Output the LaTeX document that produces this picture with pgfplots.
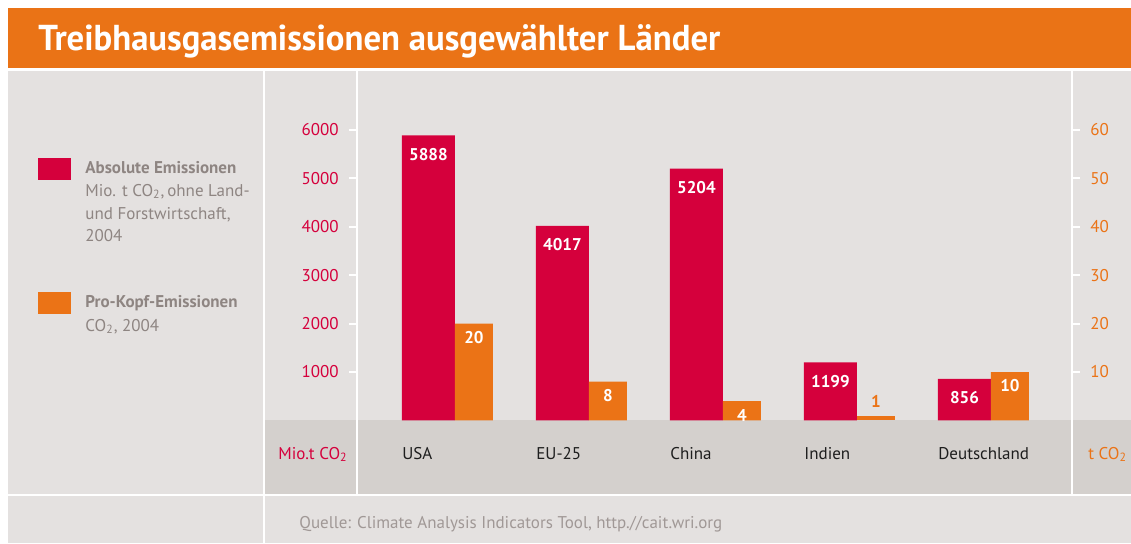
\documentclass[border=0pt]{standalone}
\usepackage{fontspec}
\setmainfont{PT Sans}
\newfontfamily\titlefont[FakeStretch=0.965]{PT Sans}
\usepackage{pgfplots}
\pgfplotsset{compat=1.18}

\definecolor{BandOrange}{RGB}{234,115,22}
\definecolor{BarRed}{RGB}{213,0,60}
\definecolor{BarOrange}{RGB}{235,115,22}
\definecolor{PanelGray}{RGB}{228,225,224}
\definecolor{BandGray}{RGB}{212,208,205}
\definecolor{LegendGray}{RGB}{142,133,130}
\definecolor{SourceGray}{RGB}{160,152,150}
\definecolor{LabelDark}{RGB}{30,30,30}

\newcommand\ft{\fontsize{8.5}{10}\selectfont}

% absolute emissions, Mio. t CO2
\pgfplotstableread{
x abs
0 5888
1 4017
2 5204
3 1199
4 856
}\absdata
% per capita, t CO2 (label inside the bar)
\pgfplotstableread{
x pk
0 20
1 8
2 4
4 10
}\pkdata
% per capita, label above the bar
\pgfplotstableread{
x pk
3 1
}\pksmall

\pgfplotsset{
  base/.style={
    at={(179pt,-210.2pt)}, anchor=south west,
    scale only axis, width=356.5pt, height=145.2pt,
    xmin=-0.526, xmax=4.795,
    axis line style={draw=none},
    tick align=outside, major tick length=4.5pt,
    ytick style={draw=white, line width=1pt},
    xtick style={draw=none},
    clip=false,
    /pgf/number format/1000 sep={},
    /pgf/number format/assume math mode=true,
  },
}

\begin{document}
\begin{tikzpicture}
\begin{scope}[x=0.5pt,y=-0.5pt]
  \useasboundingbox (0,0) rectangle (1131,543);
  \fill[white] (0,0) rectangle (1131,543);
  \fill[BandOrange] (8,8) rectangle (1131,68);
  \node[anchor=base west, inner sep=0pt, white, font=\titlefont\bfseries\fontsize{18}{20}\selectfont]
    at (38,50) {Treibhausgasemissionen ausgewählter Länder};
  \fill[PanelGray] (8,71) rectangle (1131,543);
  \fill[BandGray] (265,420.4) rectangle (1131,494);
  \draw[white, line width=1.2pt] (264,71) -- (264,543);
  \draw[white, line width=1.2pt] (357,71) -- (357,494);
  \draw[white, line width=1.2pt] (1072,71) -- (1072,494);
  \draw[white, line width=1.2pt] (8,495) -- (1131,495);
  % legend
  \fill[BarRed] (38,158) rectangle (71,180);
  \fill[BarOrange] (38,292) rectangle (71,314);
  \begin{scope}[every node/.style={anchor=base west, inner sep=0pt, LegendGray, font=\ft}]
    \node at (85,173) {\bfseries Absolute Emissionen};
    \node at (85,196) {Mio. t CO\textsubscript{2},\,ohne Land-};
    \node at (85,219) {und Forstwirtschaft,};
    \node at (85,241) {2004};
    \node at (85,307) {\bfseries Pro-Kopf-Emissionen};
    \node at (85,331) {CO\textsubscript{2}, 2004};
  \end{scope}
  \node[anchor=base west, inner sep=0pt, BarRed, font=\ft] at (278,459) {Mio.t CO\textsubscript{2}};
  \node[anchor=base west, inner sep=0pt, BarOrange, font=\ft] at (1088,459) {t CO\textsubscript{2}};
  \node[anchor=base west, inner sep=0pt, SourceGray, font=\ft] at (299,528)
    {Quelle: Climate Analysis Indicators Tool, http.//cait.wri.org};
\end{scope}

\begin{axis}[base,
  ymin=0, ymax=6000,
  axis y line*=left, axis x line*=bottom,
  ytick={1000,2000,...,6000},
  yticklabel style={BarRed, font=\ft, anchor=east, inner sep=0pt, xshift=-5pt},
  xtick={0,...,4},
  xticklabels={USA,EU-25,China,Indien,Deutschland},
  xticklabel style={LabelDark, font=\ft, anchor=base west, inner sep=0pt, xshift=-13.25pt, yshift=-15pt},
]
  \addplot[ybar, bar width=26.5pt, bar shift=0pt, fill=BarRed, draw=none,
    nodes near coords,
    nodes near coords style={white, font=\ft\bfseries, anchor=center, yshift=-9.5pt}]
    table[x=x, y=abs] {\absdata};
\end{axis}

\begin{axis}[base,
  ymin=0, ymax=60,
  axis y line*=right, axis x line=none,
  ytick={10,20,...,60},
  yticklabel style={BarOrange, font=\ft, anchor=west, inner sep=0pt, xshift=5pt},
]
  \addplot[ybar, bar width=19pt, bar shift=22.75pt, fill=BarOrange, draw=none,
    nodes near coords,
    nodes near coords style={white, font=\ft\bfseries, anchor=center, xshift=22.75pt, yshift=-7pt}]
    table[x=x, y=pk] {\pkdata};
  \addplot[ybar, bar width=19pt, bar shift=22.75pt, fill=BarOrange, draw=none,
    nodes near coords,
    nodes near coords style={BarOrange, font=\ft\bfseries, anchor=center, xshift=22.75pt, yshift=7pt}]
    table[x=x, y=pk] {\pksmall};
\end{axis}
\end{tikzpicture}
\end{document}
